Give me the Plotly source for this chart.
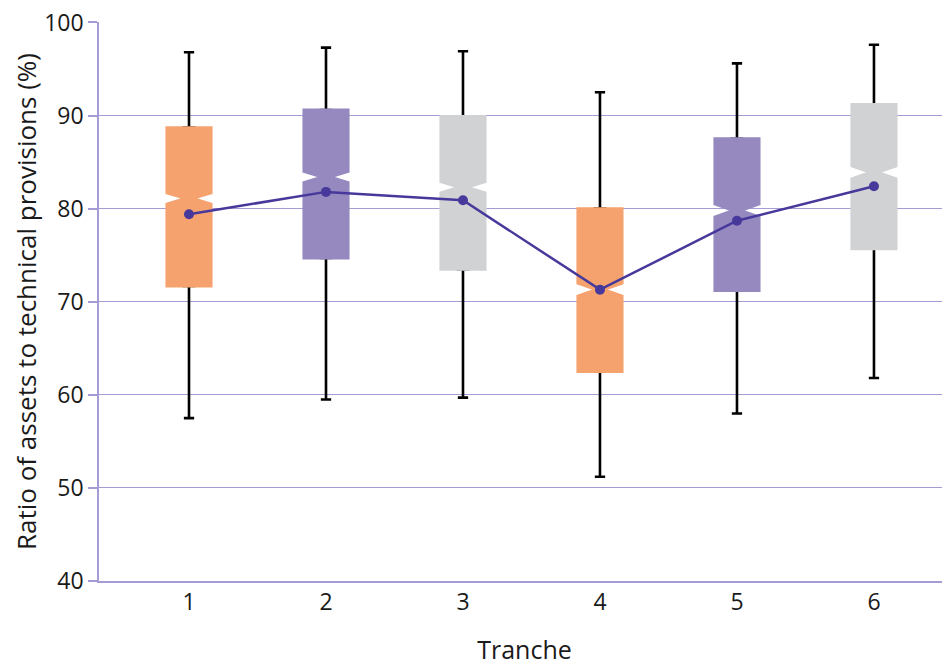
import plotly.graph_objects as go

tranche = [1, 2, 3, 4, 5, 6]
upper = [96.8, 97.3, 96.9, 92.5, 95.6, 97.6]
q3 = [88.7, 90.6, 89.9, 80.0, 87.5, 91.2]
median = [81.1, 83.4, 82.3, 71.3, 79.8, 83.9]
q1 = [71.7, 74.7, 73.5, 62.5, 71.2, 75.7]
lower = [57.5, 59.5, 59.7, 51.2, 58.0, 61.8]
mean = [79.4, 81.8, 80.9, 71.3, 78.7, 82.4]
notch = [0.6, 0.6, 0.6, 0.7, 0.7, 0.7]
box_colors = ["#F6A26F", "#9589BF", "#D1D2D4", "#F6A26F", "#9589BF", "#D1D2D4"]
y_ticks = [40, 50, 60, 70, 80, 90, 100]

GRID = "#A59CD6"
FONT = "Open Sans"
TXT = "#1a1a1a"

fig = go.Figure()

# whiskers (black, with caps) drawn underneath the coloured boxes
fig.add_trace(go.Box(
    x=tranche, q1=q1, median=median, q3=q3,
    lowerfence=lower, upperfence=upper,
    width=0.075, whiskerwidth=1,
    line=dict(color="black", width=2.6),
    fillcolor="black", boxpoints=False, hoverinfo="skip", showlegend=False,
))

# coloured notched boxes, one trace per box
for i in range(len(tranche)):
    fig.add_trace(go.Box(
        x=[tranche[i]], q1=[q1[i]], median=[median[i]], q3=[q3[i]],
        lowerfence=[q1[i]], upperfence=[q3[i]],
        notched=True, notchspan=[notch[i]], notchwidth=0.42,
        width=0.322, whiskerwidth=0,
        fillcolor=box_colors[i],
        line=dict(color=box_colors[i], width=3),
        boxpoints=False, showlegend=False,
    ))

# mean line
fig.add_trace(go.Scatter(
    x=tranche, y=mean, mode="lines+markers",
    line=dict(color="#46399B", width=2.5),
    marker=dict(color="#46399B", size=10),
    showlegend=False,
))

fig.update_layout(
    width=942, height=658,
    margin=dict(l=91, r=0, t=14, b=85),
    plot_bgcolor="white", paper_bgcolor="white",
    boxmode="overlay",
    font=dict(family=FONT, size=23, color=TXT),
    xaxis=dict(
        range=[0.343, 6.555], tickmode="array", tickvals=tranche,
        ticktext=[str(t) for t in tranche],
        showgrid=False, zeroline=False, showline=True,
        linecolor=GRID, linewidth=1.5, ticks="", automargin=False,
        title=dict(text="Tranche", standoff=30, font=dict(size=25)),
        tickfont=dict(size=23),
    ),
    yaxis=dict(
        range=[40, 100.05], tickmode="array", tickvals=y_ticks,
        ticktext=[str(t) for t in y_ticks],
        showgrid=True, gridcolor=GRID, gridwidth=1.2,
        zeroline=False, showline=True, linecolor=GRID, linewidth=1.5,
        ticks="outside", ticklen=9, tickcolor=GRID, tickwidth=1.5, automargin=False,
        ticklabeloverflow="allow",
        title=dict(text="Ratio of assets to technical provisions (%)", standoff=19, font=dict(size=26)),
        tickfont=dict(size=23),
    ),
)

fig.write_html("out.html")
